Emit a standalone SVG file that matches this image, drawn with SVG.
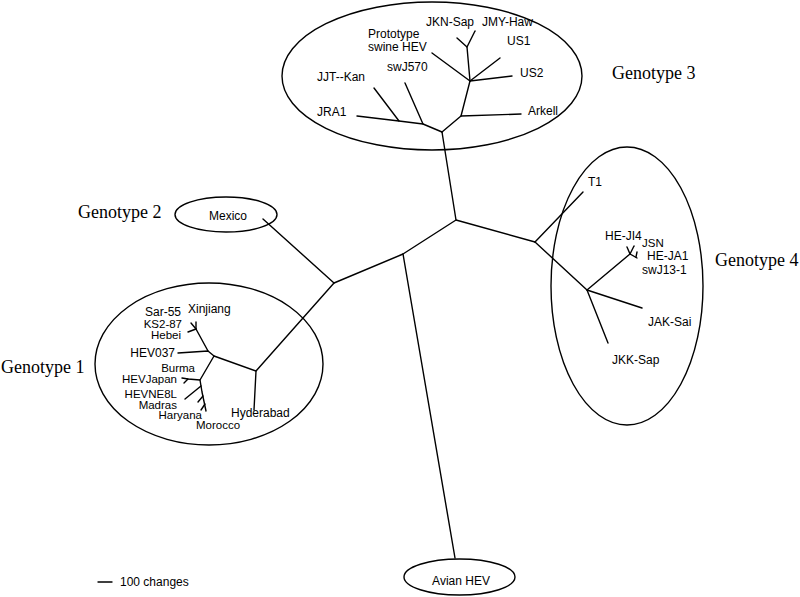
<svg xmlns="http://www.w3.org/2000/svg" width="800" height="597" viewBox="0 0 800 597">
<style>
.e{fill:none;stroke:#000;stroke-width:1.4}
.b{fill:none;stroke:#000;stroke-width:1.4;stroke-linecap:round;stroke-linejoin:round}
.t{font-family:"Liberation Sans",Arial,sans-serif;font-size:12px;fill:#000}
.s{font-size:11.5px}
.g{font-family:"Liberation Serif","Times New Roman",serif;font-size:18px;fill:#000}
</style>
<rect width="800" height="597" fill="#fff"/>
<g id="connectors" class="b">
<polyline points="442,132 456,220 535,242"/>
<polyline points="456,220 403,254 334,283 263,219"/>
<polyline points="403,254 455,558"/>
<polyline points="334,283 256,371 254,410"/>
<polyline points="535,242 583,192"/>
<polyline points="535,242 587,290 630,254"/>
<polyline points="587,290 642,308"/>
<polyline points="587,290 608,343"/>
<polyline points="442,132 423,124 399,121 357,116"/>
<polyline points="423,124 405,83"/>
<polyline points="399,121 374,88"/>
<polyline points="442,132 461,116 521,114"/>
<polyline points="461,116 470,81 512,76"/>
<polyline points="470,81 500,58"/>
<polyline points="470,81 432,53"/>
<polyline points="470,81 467,47 457,38"/>
<polyline points="467,47 475,31"/>
<polyline points="630,254 627,247"/>
<polyline points="630,254 634,246"/>
<polyline points="630,254 637,258"/>
<polyline points="636,257 637,252"/>
<polyline points="256,371 214,356 208,351 178,353"/>
<polyline points="208,351 196,329"/>
<polyline points="196,329 191,323"/>
<polyline points="196,329 196,322"/>
<polyline points="196,329 188,332"/>
<polyline points="214,356 200,380 188,379 182,378"/>
<polyline points="188,379 184,383"/>
<polyline points="200,380 202,392 206,411"/>
<polyline points="201,386 185,399"/>
<polyline points="203,396 198,402"/>
<polyline points="205,404 201,410"/>
<polyline points="98,582 112,582"/>
</g>
<g id="genotype3">
<ellipse class="e" cx="432" cy="76" rx="150" ry="74"/>
<text class="t" x="426" y="26">JKN-Sap</text>
<text class="t" x="482" y="26">JMY-Haw</text>
<text class="t" x="368" y="38">Prototype</text>
<text class="t" x="368" y="51">swine HEV</text>
<text class="t" x="507" y="45">US1</text>
<text class="t" x="387" y="71">swJ570</text>
<text class="t" x="520" y="77">US2</text>
<text class="t" x="317" y="81">JJT--Kan</text>
<text class="t" x="317" y="116">JRA1</text>
<text class="t" x="528" y="115">Arkell</text>
<text class="g" x="612" y="79">Genotype 3</text>
</g>
<g id="genotype2">
<ellipse class="e" cx="226" cy="214.5" rx="51" ry="17.5"/>
<text class="t" x="228" y="220" text-anchor="middle">Mexico</text>
<text class="g" x="78" y="218">Genotype 2</text>
</g>
<g id="genotype1">
<ellipse class="e" cx="209" cy="364" rx="114" ry="81"/>
<text class="t" x="181" y="316" text-anchor="end">Sar-55</text>
<text class="t" x="188" y="313">Xinjiang</text>
<text class="t s" x="182" y="328" text-anchor="end">KS2-87</text>
<text class="t s" x="181" y="339" text-anchor="end">Hebei</text>
<text class="t" x="175" y="357" text-anchor="end">HEV037</text>
<text class="t s" x="195" y="372" text-anchor="end">Burma</text>
<text class="t s" x="177" y="383" text-anchor="end">HEVJapan</text>
<text class="t s" x="177" y="398" text-anchor="end">HEVNE8L</text>
<text class="t s" x="177" y="409" text-anchor="end">Madras</text>
<text class="t s" x="202" y="419" text-anchor="end">Haryana</text>
<text class="t s" x="196" y="429">Morocco</text>
<text class="t" x="231" y="417">Hyderabad</text>
<text class="g" x="1" y="373">Genotype 1</text>
</g>
<g id="genotype4">
<ellipse class="e" cx="627" cy="286" rx="76" ry="139"/>
<text class="t" x="588" y="186">T1</text>
<text class="t" x="605" y="240">HE-JI4</text>
<text class="t s" x="642" y="247">JSN</text>
<text class="t" x="647" y="260">HE-JA1</text>
<text class="t" x="642" y="274">swJ13-1</text>
<text class="t" x="648" y="326">JAK-Sai</text>
<text class="t" x="612" y="364">JKK-Sap</text>
<text class="g" x="715" y="266">Genotype 4</text>
</g>
<g id="avian">
<ellipse class="e" cx="459.5" cy="577" rx="55.5" ry="18"/>
<text class="t" x="461" y="585" text-anchor="middle">Avian HEV</text>
</g>
<g id="scale">
<text class="t" x="120" y="586">100 changes</text>
</g>
</svg>
